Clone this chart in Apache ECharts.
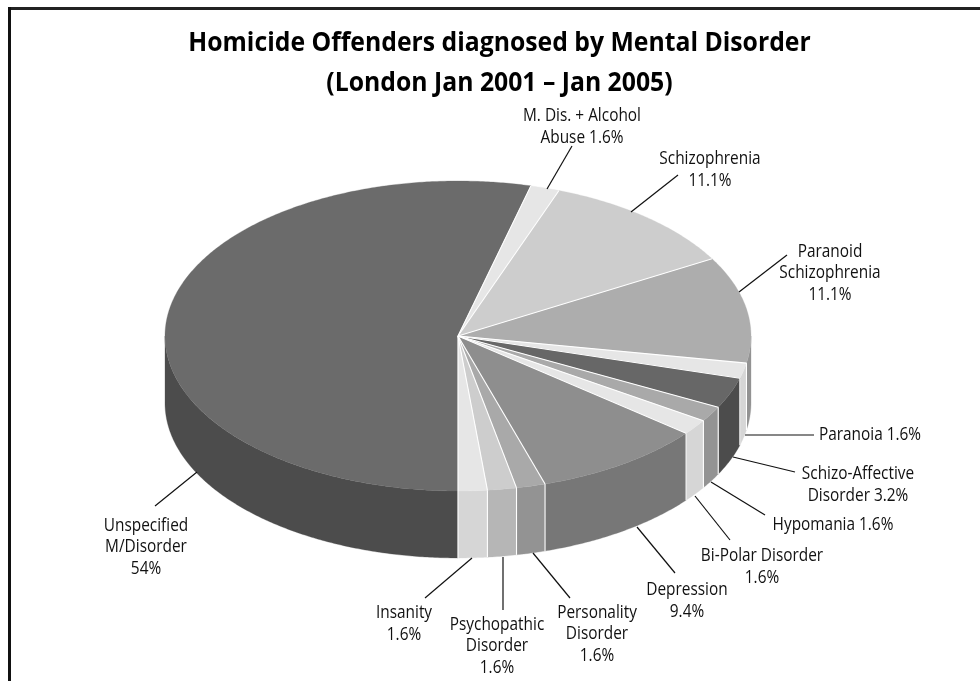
<!DOCTYPE html>
<html><head><meta charset="utf-8">
<style>html,body{margin:0;padding:0;background:#fff}#c{width:980px;height:681px}</style>
<script src="https://cdn.jsdelivr.net/npm/echarts@6/dist/echarts.min.js"></script>
</head><body><div id="c"></div>
<script>
// ---- data ----
const categories = ['Unspecified M/Disorder','M. Dis. + Alcohol Abuse','Schizophrenia','Paranoid Schizophrenia','Paranoia','Schizo-Affective Disorder','Hypomania','Bi-Polar Disorder','Depression','Personality Disorder','Psychopathic Disorder','Insanity'];
const values = [54,1.6,11.1,11.1,1.6,3.2,1.6,1.6,9.4,1.6,1.6,1.6];
const labelTexts = ['Unspecified\nM/Disorder\n54%','M. Dis. + Alcohol\nAbuse 1.6%','Schizophrenia\n11.1%','Paranoid\nSchizophrenia\n11.1%','Paranoia 1.6%','Schizo-Affective\nDisorder 3.2%','Hypomania 1.6%','Bi-Polar Disorder\n1.6%','Depression\n9.4%','Personality\nDisorder\n1.6%','Psychopathic\nDisorder\n1.6%','Insanity\n1.6%'];
const titleLines = ['Homicide Offenders diagnosed by Mental Disorder','(London Jan 2001 – Jan 2005)'];

// ---- styling and layout, kept apart from the data ----
const topColors  = ['#6b6b6b','#e6e6e6','#cdcdcd','#adadad','#e6e6e6','#676767','#a9a9a9','#e6e6e6','#8e8e8e','#a9a9a9','#cdcdcd','#e6e6e6'];
const sideColors = ['#4c4c4c','#d6d6d6','#b6b6b6','#939393','#d6d6d6','#4c4c4c','#939393','#d6d6d6','#777777','#939393','#b6b6b6','#d6d6d6'];
const labelCenters = [[146,547],[582,127],[710,170],[830,273],[870,434.5],[858,485],[833,525],[762,567],[687,601],[597,634],[497,646],[404,624]];
const leaders = [[197,472,155,506],[547,189,572,146],[631,212,678,175],[739,292,787,255],[745,435,814,435],[733,457,795,472],[711,482,765,515],[695,496,730,540],[637,527,675,573],[533,553,570,598],[503,557,503,610],[472,558,425,598]];
const depth = 0.432, startDeg = 180;
const total = values.reduce((a,b)=>a+b,0);
const spans = []; { let a = startDeg; values.forEach(v=>{ const b = a + v/total*360; spans.push([a,b]); a = b; }); }
const rimPt = (api,deg,drop=0)=>{ const r = deg*Math.PI/180; return api.coord([Math.sin(r), Math.cos(r)-drop]); };
const arc = (api,a,b,drop)=>{ const out=[]; const n=Math.max(2,Math.ceil(Math.abs(b-a)*2)); for(let i=0;i<=n;i++) out.push(rimPt(api,a+(b-a)*i/n,drop)); return out; };
const rows = values.map((v,i)=>[0,0,i]);
const base = {type:'custom',coordinateSystem:'cartesian2d',data:rows,encode:{x:0,y:1},silent:true,animation:false,clip:false};

const sideSeries = {...base, z:1, renderItem(p,api){
  const i = api.value(2), [a,b] = spans[i], kids=[];
  [[180,270],[450,540]].forEach(([lo,hi])=>{
    const s=Math.max(a,lo), e=Math.min(b,hi);
    if(e<=s) return;
    kids.push({type:'polygon',shape:{points:arc(api,s,e,0).concat(arc(api,e,s,depth))},style:{fill:sideColors[i],stroke:sideColors[i],lineWidth:0.3}});
  });
  return {type:'group',children:kids};
}};
const topSeries = {...base, z:2, renderItem(p,api){
  const i = api.value(2), [a,b] = spans[i];
  return {type:'polygon',shape:{points:[api.coord([0,0])].concat(arc(api,a,b,0))},style:{fill:topColors[i],stroke:topColors[i],lineWidth:0.3}};
}};
const edgeSeries = {...base, z:3, renderItem(p,api){
  const i = api.value(2), a = spans[i][0], kids=[];
  const line = (f,t)=>({type:'line',shape:{x1:f[0],y1:f[1],x2:t[0],y2:t[1]},style:{stroke:'#fff',lineWidth:1.1}});
  kids.push(line(api.coord([0,0]),rimPt(api,a)));
  const m = ((a%360)+360)%360;
  if(m>90 && m<=270) kids.push(line(rimPt(api,a),rimPt(api,a,depth)));
  return {type:'group',children:kids};
}};
const labelSeries = {...base, z:4, renderItem(p,api){
  const i = api.value(2), L = leaders[i], C = labelCenters[i];
  return {type:'group',children:[
    {type:'line',shape:{x1:L[0],y1:L[1],x2:L[2],y2:L[3]},style:{stroke:'#111',lineWidth:1.2}},
    {type:'text',x:C[0],y:C[1],scaleX:0.855,
     style:{text:labelTexts[i],align:'center',verticalAlign:'middle',fill:'#111',
            font:'18px "Open Sans"',lineHeight:21.5}}
  ]};
}};

const chart = echarts.init(document.getElementById('c'),null,{renderer:'canvas'});
chart.setOption({
  animation:false, backgroundColor:'#fff',
  grid:{left:165,width:586,top:181,height:310,containLabel:false},
  xAxis:{type:'value',min:-1,max:1,show:false},
  yAxis:{type:'value',min:-1,max:1,show:false},
  series:[sideSeries,topSeries,edgeSeries,labelSeries],
  graphic:[
    {type:'line',silent:true,shape:{x1:8,y1:8.5,x2:980,y2:8.5},style:{stroke:'#222',lineWidth:3}},
    {type:'line',silent:true,shape:{x1:9.5,y1:7,x2:9.5,y2:681},style:{stroke:'#111',lineWidth:3}},
    {type:'text',silent:true,x:499.5,y:63.5,scaleX:0.917,
     style:{text:titleLines.join('\n'),align:'center',verticalAlign:'middle',fill:'#000',
            font:'bold 27px "Open Sans"',lineHeight:40}}
  ]
});
</script></body></html>
